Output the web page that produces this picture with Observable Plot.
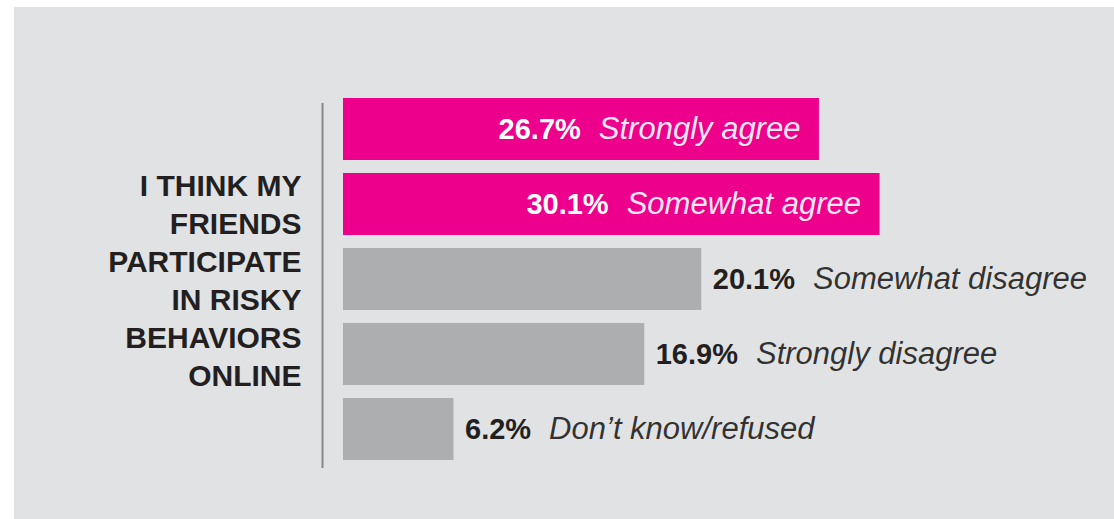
<!DOCTYPE html>
<html>
<head>
<meta charset="utf-8">
<script src="https://cdn.jsdelivr.net/npm/d3@7"></script>
<script src="https://cdn.jsdelivr.net/npm/@observablehq/plot@0.6"></script>
<style>
  html, body { margin: 0; padding: 0; background: #ffffff; }
  #chart { padding: 7px 0 0 14px; }
  #chart svg { display: block; }
</style>
</head>
<body>
<div id="chart"></div>
<script>
const categories = ["Strongly agree", "Somewhat agree", "Somewhat disagree", "Strongly disagree", "Don’t know/refused"];
const values = [26.7, 30.1, 20.1, 16.9, 6.2];
const groups = ["agree", "agree", "disagree", "disagree", "other"];
const titleLines = ["I THINK MY", "FRIENDS", "PARTICIPATE", "IN RISKY", "BEHAVIORS", "ONLINE"];

const rows = categories.map((c, i) => ({
  category: c,
  value: values[i],
  group: groups[i],
  label: values[i].toFixed(1) + "%|" + c
}));
const inside = rows.filter(d => d.group === "agree");
const outside = rows.filter(d => d.group !== "agree");

const pink = "#ec008c";
const gray = "#adaeb0";
const ink = "#231f20";

const plot = Plot.plot({
  width: 1100,
  height: 512,
  marginLeft: 329,
  marginRight: 58,
  marginTop: 89,
  marginBottom: 58,
  style: {
    background: "#e1e2e4",
    fontFamily: "'Liberation Sans', Arial, sans-serif"
  },
  x: { domain: [0, 40], axis: null },
  y: { domain: categories, axis: null, paddingInner: 0.18, paddingOuter: 0 },
  color: { domain: ["agree", "disagree", "other"], range: [pink, gray, gray] },
  marks: [
    Plot.barX(rows, { x: "value", y: "category", fill: "group" }),
    Plot.ruleX([0], { dx: -21, dy: 7, stroke: "#86878a", strokeWidth: 2 }),
    Plot.text([titleLines.join("\n")], {
      frameAnchor: "left",
      dx: -42,
      dy: 0,
      textAnchor: "end",
      lineHeight: 1.267,
      fontSize: 30,
      fontWeight: "bold",
      fill: ink
    }),
    Plot.text(inside, {
      x: "value", y: "category", text: "label",
      textAnchor: "end", dx: -19, fontSize: 31, fill: "white",
      className: "lbl"
    }),
    Plot.text(outside, {
      x: "value", y: "category", text: "label",
      textAnchor: "start", dx: 11, fontSize: 31, fill: ink,
      className: "lbl"
    })
  ]
});

// split each label into bold value + italic category
d3.select(plot).selectAll("g.lbl text").each(function () {
  const t = d3.select(this);
  const [v, c] = t.text().split("|");
  t.text(null);
  t.append("tspan").attr("font-weight", "bold").attr("font-size", 29).text(v);
  t.append("tspan").attr("font-style", "italic").attr("fill-opacity", 0.92).attr("dx", 18).text(c);
});

document.getElementById("chart").appendChild(plot);
</script>
</body>
</html>
